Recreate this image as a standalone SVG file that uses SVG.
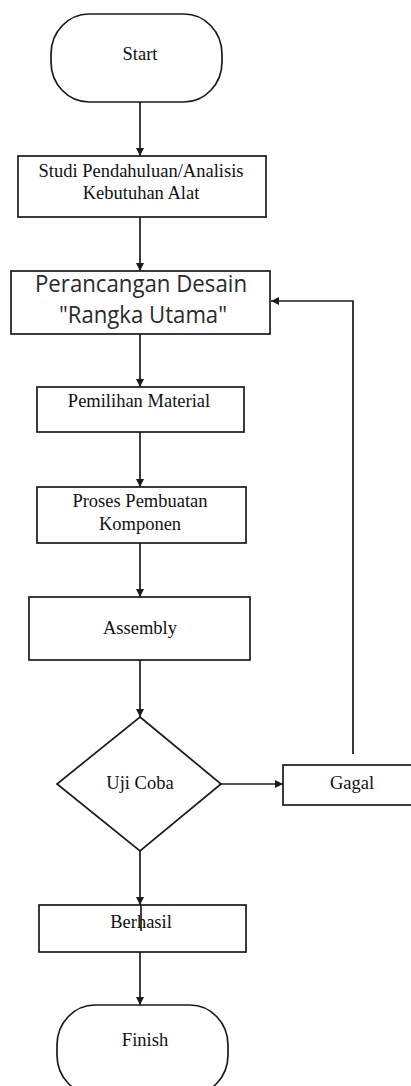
<svg xmlns="http://www.w3.org/2000/svg" width="411" height="1086" viewBox="0 0 411 1086">
<style>
.s{fill:#fff;stroke:#1a1a1a;stroke-width:1.7}
.t{font-family:"Liberation Serif","Times New Roman",serif;font-size:18.5px;fill:#111;text-anchor:middle}
.c{font-family:"Open Sans","Liberation Sans",sans-serif;font-size:24px;fill:#2a2a2a;text-anchor:middle}
.l{fill:none;stroke:#1a1a1a;stroke-width:1.7}
</style>
<defs>
<marker id="ah" markerWidth="9" markerHeight="9" refX="8" refY="4.5" orient="auto" markerUnits="userSpaceOnUse">
<path d="M0,0.5 L8,4.5 L0,8.5 Z" fill="#1a1a1a"/>
</marker>
</defs>
<rect width="411" height="1086" fill="#fff"/>
<g id="connectors">
<line class="l" x1="140" y1="102" x2="140" y2="156" marker-end="url(#ah)"/>
<line class="l" x1="140" y1="217" x2="140" y2="271" marker-end="url(#ah)"/>
<line class="l" x1="140" y1="334" x2="140" y2="387" marker-end="url(#ah)"/>
<line class="l" x1="140" y1="432" x2="140" y2="487" marker-end="url(#ah)"/>
<line class="l" x1="140" y1="543" x2="140" y2="597" marker-end="url(#ah)"/>
<line class="l" x1="140" y1="660" x2="140" y2="717" marker-end="url(#ah)"/>
<line class="l" x1="221" y1="784" x2="283" y2="784" marker-end="url(#ah)"/>
<polyline class="l" points="353,754 353,301 271,301" marker-end="url(#ah)"/>
<line class="l" x1="140" y1="851" x2="140" y2="905" marker-end="url(#ah)"/>
<line class="l" x1="140" y1="952" x2="140" y2="1005" marker-end="url(#ah)"/>
</g>
<g id="start">
<rect class="s" x="51" y="14" width="171" height="88" rx="38" ry="40"/>
<text class="t" x="140" y="60">Start</text>
</g>
<g id="studi">
<rect class="s" x="18" y="156" width="248" height="61"/>
<text class="t" x="141" y="177">Studi Pendahuluan/Analisis</text>
<text class="t" x="141" y="199">Kebutuhan Alat</text>
</g>
<g id="perancangan">
<rect class="s" x="11" y="271" width="259" height="63"/>
<text class="c" x="141" y="292" textLength="212" lengthAdjust="spacingAndGlyphs">Perancangan Desain</text>
<text class="c" x="143" y="323" textLength="168" lengthAdjust="spacingAndGlyphs">"Rangka Utama"</text>
</g>
<g id="pemilihan">
<rect class="s" x="37" y="387" width="207" height="45"/>
<text class="t" x="139" y="407">Pemilihan Material</text>
</g>
<g id="proses">
<rect class="s" x="37" y="487" width="209" height="56"/>
<text class="t" x="140" y="507">Proses Pembuatan</text>
<text class="t" x="140" y="530">Komponen</text>
</g>
<g id="assembly">
<rect class="s" x="29" y="597" width="221" height="63"/>
<text class="t" x="140" y="634">Assembly</text>
</g>
<g id="ujicoba">
<polygon class="s" points="140,717 221,784 140,851 57,784"/>
<text class="t" x="140" y="789">Uji Coba</text>
</g>
<g id="gagal">
<rect class="s" x="283" y="765" width="130" height="40"/>
<text class="t" x="352" y="789">Gagal</text>
</g>
<g id="berhasil">
<rect class="s" x="39" y="905" width="207" height="47"/>
<text class="t" x="141" y="928">Berhasil</text>
<line class="l" x1="141" y1="905" x2="141" y2="931"/>
</g>
<g id="finish">
<rect class="s" x="57" y="1005" width="171" height="90" rx="38" ry="40"/>
<text class="t" x="145" y="1046">Finish</text>
</g>
</svg>
